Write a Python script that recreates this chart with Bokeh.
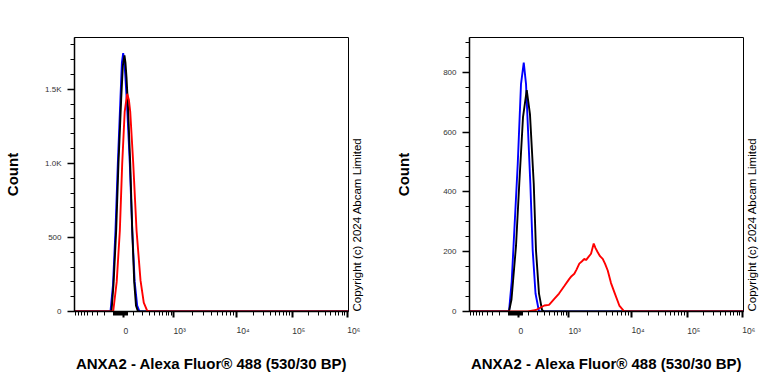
import numpy as np
from bokeh.plotting import figure
from bokeh.models import Range1d, FixedTicker, LinearAxis
from bokeh.layouts import row
from bokeh.embed import file_html
from bokeh.resources import INLINE

FONT = "Liberation Sans"
X_TITLE = "ANXA2 - Alexa Fluor® 488 (530/30 BP)"
Y_TITLE = "Count"
COPYRIGHT = "Copyright (c) 2024 Abcam Limited"

# Biexponential display scale: linear half-width and relative widths of decades 1e3-1e4, 1e4-1e5, 1e5-1e6
LIN_WIDTH = 200.0
DECADE_WIDTHS = [1.26, 1.116, 1.10]
X_MIN = -954.0
X_MAX = 1.05e6

X_TICK_VALUES = [0.0, 1e3, 1e4, 1e5, 1e6]
X_TICK_LABELS = ["0", "10³", "10⁴", "10⁵", "10⁶"]
X_MINOR_TICKS = ([-100 * k for k in range(1, 10)] + [-10 * k for k in range(1, 10)] + [10, 20, 30, 40]
                 + [100 * k for k in range(1, 10)]
                 + [m * 10 ** e for e in (3, 4, 5) for m in range(2, 10)])

# ---- left panel (counts) ----
LEFT_Y_MAX = 1850
LEFT_Y_TICKS = [0, 500, 1000, 1500]
LEFT_Y_LABELS = ["0", "500", "1.0K", "1.5K"]
LEFT_Y_MINOR = list(range(0, 1900, 100))

LEFT_BLUE_X = [X_MIN, -150, -128, -101, -76, -53, -28, -15, -3, 6, 16, 34, 59, 83, 108, 135, 162, X_MAX]
LEFT_BLUE_COUNT = [0, 0, 0, 180, 547, 1000, 1448, 1680, 1745, 1700, 1600, 1380, 1000, 547, 200, 40, 0, 0]

LEFT_BLACK_X = [X_MIN, -117, -96, -69, -47, -21, -6, 9, 18, 28, 42, 63, 83, 103, 122, 144, X_MAX]
LEFT_BLACK_COUNT = [0, 0, 180, 547, 1000, 1440, 1660, 1730, 1680, 1580, 1380, 1000, 547, 200, 40, 0, 0]

LEFT_RED_X = [X_MIN, -99, -64, -34, -12, 11, 34, 50, 63, 93, 128, 174, 216, 266, 320, X_MAX]
LEFT_RED_COUNT = [0, 0, 200, 547, 1000, 1350, 1470, 1430, 1350, 1000, 547, 210, 60, 5, 0, 0]

# ---- right panel (counts) ----
RIGHT_Y_MAX = 916
RIGHT_Y_TICKS = [0, 200, 400, 600, 800]
RIGHT_Y_LABELS = ["0", "200", "400", "600", "800"]
RIGHT_Y_MINOR = list(range(0, 950, 50))

RIGHT_BLUE_X = [X_MIN, -91, -64, -39, -7, 23, 49, 71, 115, 141, 174, 219, X_MAX]
RIGHT_BLUE_COUNT = [0, 0, 100, 271, 494, 760, 832, 760, 427, 204, 60, 0, 0]

RIGHT_BLACK_X = [X_MIN, -91, -66, -23, 7, 42, 78, 111, 153, 180, 219, 263, 295, X_MAX]
RIGHT_BLACK_COUNT = [0, 0, 40, 220, 427, 650, 740, 660, 427, 204, 60, 5, 0, 0]

RIGHT_RED_X = [X_MIN, 88, 180, 300, 386, 504, 636, 820, 1030, 1116, 1236, 1340, 1484, 1638, 1781, 1896,
               2062, 2276, 2512, 2683, 2907, 3162, 3491, 3796, 4191, 4727, 5333, 6402, 7687, X_MAX]
RIGHT_RED_COUNT = [0, 0, 5, 20, 22, 42, 60, 85, 109, 118, 126, 140, 160, 168, 176, 172,
                   182, 193, 227, 212, 198, 185, 176, 160, 137, 95, 65, 20, 0, 0]

BLUE = "#0000ff"
BLACK = "#000000"
RED = "#ff0000"


def biex(v):
    v = np.atleast_1d(np.asarray(v, dtype=float))
    out = np.arcsinh(v / LIN_WIDTH) / np.arcsinh(1000.0 / LIN_WIDTH)
    hi = v > 1000.0
    if hi.any():
        widths = np.array(DECADE_WIDTHS)
        edges = np.concatenate([[1.0], 1.0 + np.cumsum(widths)])
        lg = np.log10(v[hi]) - 3.0
        idx = np.clip(np.floor(lg).astype(int), 0, len(widths) - 1)
        out[hi] = edges[idx] + (lg - idx) * widths[idx]
    return out


def make_panel(width, border_left, border_right, y_max, y_ticks, y_labels, y_minor,
               curves, count_standoff):
    p = figure(width=width, height=384, title=None, output_backend="svg", toolbar_location=None,
               x_range=Range1d(float(biex(X_MIN)[0]), float(biex(X_MAX)[0])),
               y_range=Range1d(0, y_max),
               min_border_left=border_left, min_border_right=border_right,
               min_border_top=37, min_border_bottom=73,
               background_fill_color="white", border_fill_color="white")
    p.outline_line_color = "black"
    p.outline_line_width = 1
    p.grid.visible = False

    for xs, ys, color in curves:
        p.line(biex(xs), ys, line_color=color, line_width=1.9)

    major = [round(float(t), 4) for t in biex(X_TICK_VALUES)]
    xa = p.xaxis[0]
    xa.ticker = FixedTicker(ticks=major, minor_ticks=[float(t) for t in biex(X_MINOR_TICKS)])
    xa.major_label_overrides = {t: lab for t, lab in zip(major, X_TICK_LABELS)}
    xa.major_label_orientation = -0.0001
    xa.major_label_text_font = FONT
    xa.major_label_text_font_size = "8.5px"
    xa.major_label_text_color = "#333333"
    xa.major_label_standoff = 13
    xa.major_tick_in = 0
    xa.major_tick_out = 6
    xa.minor_tick_in = 0
    xa.minor_tick_out = 4
    xa.major_tick_line_width = 2
    xa.minor_tick_line_width = 1
    xa.axis_line_width = 1.5
    xa.axis_label = X_TITLE
    xa.axis_label_text_font = FONT
    xa.axis_label_text_font_style = "bold"
    xa.axis_label_text_font_size = "15px"
    xa.axis_label_text_color = "black"
    xa.axis_label_standoff = 11

    ya = p.yaxis[0]
    ya.ticker = FixedTicker(ticks=y_ticks, minor_ticks=y_minor)
    ya.major_label_overrides = {t: lab for t, lab in zip(y_ticks, y_labels)}
    ya.major_label_text_font = FONT
    ya.major_label_text_font_size = "8px"
    ya.major_label_text_color = "#333333"
    ya.major_label_standoff = 6
    ya.major_tick_in = 0
    ya.major_tick_out = 7
    ya.minor_tick_in = 0
    ya.minor_tick_out = 4
    ya.major_tick_line_width = 1.5
    ya.axis_line_width = 1.5
    ya.axis_label = Y_TITLE
    ya.axis_label_text_font = FONT
    ya.axis_label_text_font_style = "bold"
    ya.axis_label_text_font_size = "15px"
    ya.axis_label_text_color = "black"
    ya.axis_label_standoff = count_standoff

    # copyright notice, written bottom-to-top just right of the frame
    ca = LinearAxis(ticker=FixedTicker(ticks=[0], minor_ticks=[]),
                    major_label_overrides={0: COPYRIGHT},
                    major_label_orientation=np.pi / 2,
                    major_label_text_font=FONT, major_label_text_font_size="11.5px",
                    major_label_text_color="black", major_label_standoff=8,
                    major_tick_in=0, major_tick_out=0, minor_tick_in=0, minor_tick_out=0,
                    axis_line_color=None, major_tick_line_color=None, minor_tick_line_color=None)
    p.add_layout(ca, "right")
    return p


left = make_panel(388, 74, 40, LEFT_Y_MAX, LEFT_Y_TICKS, LEFT_Y_LABELS, LEFT_Y_MINOR,
                  [(LEFT_BLUE_X, LEFT_BLUE_COUNT, BLUE), (LEFT_BLACK_X, LEFT_BLACK_COUNT, BLACK),
                   (LEFT_RED_X, LEFT_RED_COUNT, RED)], 21)
right = make_panel(380, 81, 25, RIGHT_Y_MAX, RIGHT_Y_TICKS, RIGHT_Y_LABELS, RIGHT_Y_MINOR,
                   [(RIGHT_BLUE_X, RIGHT_BLUE_COUNT, BLUE), (RIGHT_BLACK_X, RIGHT_BLACK_COUNT, BLACK),
                    (RIGHT_RED_X, RIGHT_RED_COUNT, RED)], 28)

layout = row(left, right)
open("out.html", "w").write(file_html(layout, INLINE))
